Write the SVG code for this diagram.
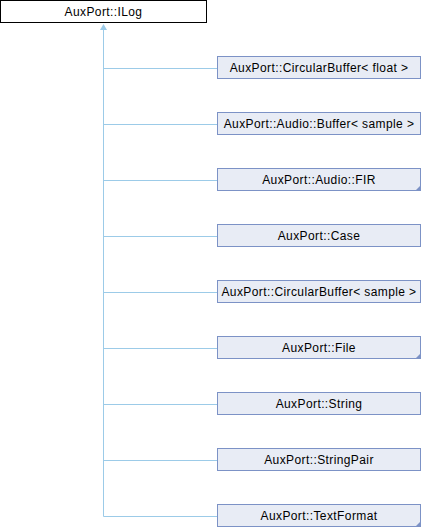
<svg xmlns="http://www.w3.org/2000/svg" width="424" height="528" viewBox="0 0 424 528">
<style>
.n rect{fill:#E8ECF5;stroke:#7C92C6;stroke-width:1}
.root rect{fill:#FFFFFF;stroke:#000000;stroke-width:1}
text{font-family:"Liberation Sans",Arial,sans-serif;font-size:12px;letter-spacing:0.4px;fill:#000;text-anchor:middle}
.c{stroke:#9CCBE8;stroke-width:1;fill:none}
.corner{fill:#7C92C6}
</style>
<rect width="424" height="528" fill="#FFFFFF"/>
<g id="connectors">
<path class="c" d="M103.5,29 V516.5 M103.5,68.5 H217 M103.5,124.5 H217 M103.5,180.5 H217 M103.5,236.5 H217 M103.5,292.5 H217 M103.5,348.5 H217 M103.5,404.5 H217 M103.5,460.5 H217 M103.5,516.5 H217"/>
<polygon points="103.5,24 100,30 107,30" fill="#9CCBE8"/>
</g>
<g id="ILog" class="root"><rect x="0.5" y="0.5" width="206" height="22"/><text x="103.5" y="16">AuxPort::ILog</text></g>
<g id="CircularBufferFloat" class="n"><rect x="217.5" y="56.5" width="203" height="22"/><text x="319" y="72">AuxPort::CircularBuffer&lt; float &gt;</text></g>
<g id="AudioBuffer" class="n"><rect x="217.5" y="112.5" width="203" height="22"/><text x="319" y="128">AuxPort::Audio::Buffer&lt; sample &gt;</text></g>
<g id="AudioFIR" class="n"><rect x="217.5" y="168.5" width="203" height="22"/><polygon class="corner" points="421,185 421,191 415,191"/><text x="319" y="184">AuxPort::Audio::FIR</text></g>
<g id="Case" class="n"><rect x="217.5" y="224.5" width="203" height="22"/><text x="319" y="240">AuxPort::Case</text></g>
<g id="CircularBufferSample" class="n"><rect x="217.5" y="280.5" width="203" height="22"/><text x="319" y="296">AuxPort::CircularBuffer&lt; sample &gt;</text></g>
<g id="File" class="n"><rect x="217.5" y="336.5" width="203" height="22"/><polygon class="corner" points="421,353 421,359 415,359"/><text x="319" y="352">AuxPort::File</text></g>
<g id="String" class="n"><rect x="217.5" y="392.5" width="203" height="22"/><text x="319" y="408">AuxPort::String</text></g>
<g id="StringPair" class="n"><rect x="217.5" y="448.5" width="203" height="22"/><text x="319" y="464">AuxPort::StringPair</text></g>
<g id="TextFormat" class="n"><rect x="217.5" y="504.5" width="203" height="22"/><polygon class="corner" points="421,521 421,527 415,527"/><text x="319" y="520">AuxPort::TextFormat</text></g>
</svg>
